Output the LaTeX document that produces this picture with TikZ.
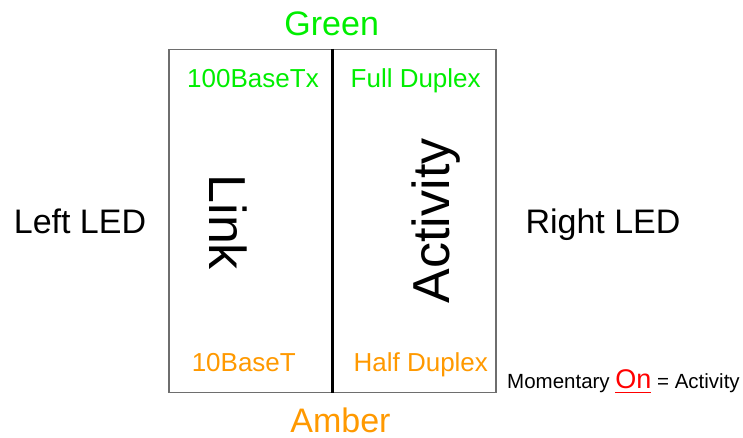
\documentclass[tikz,border=0pt]{standalone}
\usepackage{fontspec}
\setmainfont{Liberation Sans}
\definecolor{ledgreen}{RGB}{0,238,0}
\definecolor{ledamber}{RGB}{255,153,0}
\definecolor{boxgray}{RGB}{110,110,110}
\newcommand\myul[1]{\setbox0\hbox{#1}\rlap{\rule[-4.6pt]{\wd0}{1.4pt}}\box0}
\newcommand\fs[1]{\fontsize{#1}{#1}\selectfont}
\begin{document}
\begin{tikzpicture}[x=1pt,y=-1pt,
  lbl/.style={inner sep=0pt,outer sep=0pt,anchor=base},
  grn/.style={lbl,text=ledgreen},
  amb/.style={lbl,text=ledamber}]
\useasboundingbox (0,0) rectangle (743,437);
\node[draw=boxgray,line width=1.2pt,minimum width=327pt,minimum height=343pt,inner sep=0pt] (box) at (332.5,221) {};
\draw[line width=3pt,black] (box.north) -- (box.south);
\node[grn,font=\fs{34}] (green) at (331.7,35) {Green};
\node[amb,font=\fs{34}] (amber) at (340.5,432.8) {Amber};
\node[grn,font=\fs{26}] (t100) at (253,87.3) {100BaseTx};
\node[grn,font=\fs{26}] (full) at (415.7,87.3) {Full Duplex};
\node[amb,font=\fs{26}] (t10) at (243.8,371) {10BaseT};
\node[amb,font=\fs{26}] (half) at (420.8,371) {Half Duplex};
\node[lbl,font=\fs{34}] (left) at (80,233) {Left LED};
\node[lbl,font=\fs{34}] (right) at (603,233) {Right LED};
\node[lbl,font=\fs{52},rotate=-90] (link) at (209,222.3) {Link};
\node[lbl,font=\fs{52},rotate=90] (act) at (449,220.8) {Activity};
\node[inner sep=0pt,anchor=base west,font=\fs{20.5}] (mom) at (507,388.3)
  {Momentary {\color{red}\fs{27}\myul{On}} = Activity};
\end{tikzpicture}
\end{document}
